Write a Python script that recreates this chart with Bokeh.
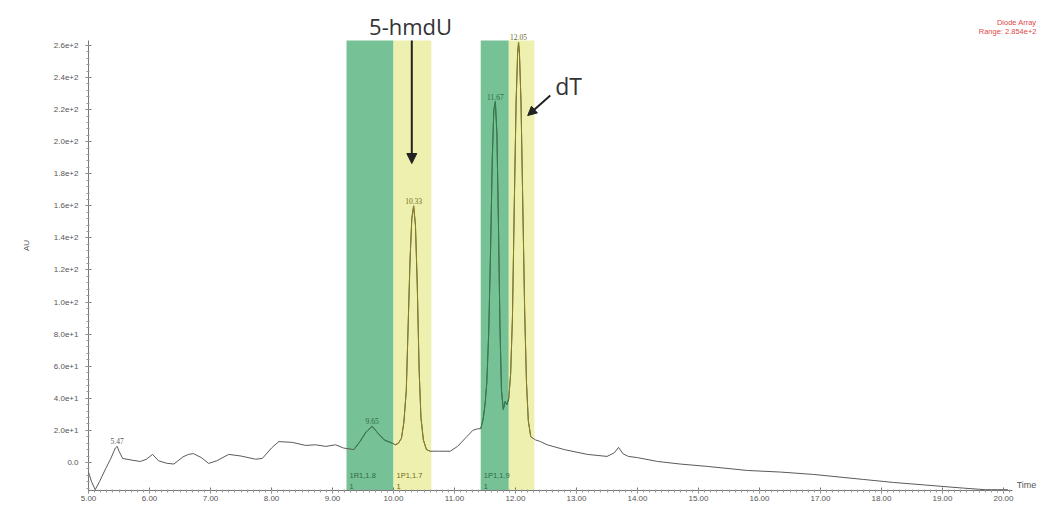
import numpy as np
from bokeh.plotting import figure
from bokeh.models import (Range1d, FixedTicker, BoxAnnotation, Label, LabelSet,
                          ColumnDataSource, Arrow, NormalHead)
from bokeh.embed import file_html
from bokeh.resources import INLINE

# ---------------- data ----------------
time_min = [5.00, 5.05, 5.11, 5.18, 5.28, 5.36, 5.44, 5.47, 5.50, 5.56, 5.70, 5.85, 5.95,
            6.05, 6.15, 6.28, 6.40, 6.55, 6.64, 6.72, 6.85, 6.97, 7.10, 7.30, 7.50, 7.74,
            7.85, 8.00, 8.12, 8.34, 8.56, 8.72, 8.89, 9.05, 9.18, 9.35, 9.45, 9.55, 9.65,
            9.75, 9.85, 9.98, 10.03, 10.08, 10.13, 10.17, 10.21, 10.24, 10.27, 10.30, 10.33,
            10.36, 10.39, 10.42, 10.45, 10.49, 10.54, 10.60, 10.75, 10.93, 11.05, 11.20,
            11.30, 11.38, 11.43, 11.47, 11.50, 11.53, 11.56, 11.59, 11.62, 11.645, 11.67,
            11.695, 11.72, 11.745, 11.77, 11.80, 11.83, 11.86, 11.89, 11.92, 11.95, 11.98,
            12.01, 12.035, 12.05, 12.065, 12.09, 12.12, 12.15, 12.18, 12.21, 12.25, 12.33,
            12.41, 12.52, 12.80, 13.18, 13.50, 13.62, 13.69, 13.76, 13.85, 14.00, 14.33,
            14.70, 15.15, 15.80, 16.34, 16.89, 17.70, 18.20, 18.69, 19.34, 19.70, 20.07]
absorbance = [-6, -12, -17, -12, -4, 2, 9, 10, 7, 2.5, 1.5, 0.6, 2,
              5, 1, -0.5, -1, 3.5, 5, 5.5, 3, -0.6, 1, 5, 4, 2,
              2.5, 9, 13, 12.5, 10.6, 11, 10, 11, 9, 8, 13, 19, 22.5,
              18, 14, 12, 11, 12, 15, 25, 45, 85, 125, 152, 160,
              148, 110, 58, 28, 14, 8, 7, 7, 7, 10, 16,
              20, 21, 21, 27, 36, 50, 80, 130, 190, 220, 225,
              205, 150, 85, 45, 33, 38, 36, 40, 55, 90, 160,
              225, 255, 262, 255, 225, 160, 95, 50, 26, 16, 14,
              13, 11, 8, 5, 3.75, 6, 9.4, 5.5, 3.75, 3, 0.6,
              -1, -2.5, -5, -6, -7.5, -10.6, -12.5, -14, -16, -17, -17]

peak_rt = [5.47, 9.65, 10.33, 11.67, 12.05]
peak_height = [10, 22.5, 160, 225, 262]
peak_label = ["5.47", "9.65", "10.33", "11.67", "12.05"]
peak_kind = ["none", "green", "yellow", "green", "yellow"]

region_start = [9.23, 10.00, 11.43, 11.89]
region_end = [10.00, 10.62, 11.89, 12.31]
region_kind = ["green", "yellow", "green", "yellow"]
region_label = ["1R1,1.8", "1P1,1.7", "1P1,1.9", ""]
region_sub = ["1", "1", "1", ""]

x_ticks = [5, 6, 7, 8, 9, 10, 11, 12, 13, 14, 15, 16, 17, 18, 19, 20]
x_tick_labels = ["5.00", "6.00", "7.00", "8.00", "9.00", "10.00", "11.00", "12.00",
                 "13.00", "14.00", "15.00", "16.00", "17.00", "18.00", "19.00", "20.00"]
y_ticks = [0, 20, 40, 60, 80, 100, 120, 140, 160, 180, 200, 220, 240, 260]
y_tick_labels = ["0.0", "2.0e+1", "4.0e+1", "6.0e+1", "8.0e+1", "1.0e+2", "1.2e+2",
                 "1.4e+2", "1.6e+2", "1.8e+2", "2.0e+2", "2.2e+2", "2.4e+2", "2.6e+2"]

# ---------------- styling ----------------
FILL = {"green": "#76c196", "yellow": "#eef0b0"}
LINE = {"green": "#2f7d4a", "yellow": "#8a7f1f", "none": "#555555"}
TXT = {"green": "#2f6b45", "yellow": "#6f6a1c", "none": "#555555"}
SMALL = "Liberation Sans"
BIG = "Open Sans"

# axis extents (drawn part) and the wider plotting window used for annotations
AX_X0, AX_X1 = 5.0, 20.15
AX_Y0, AX_Y1 = -17.5, 263.1
PX_PER_X = 61.0
PX_PER_Y = 450 / (AX_Y1 - AX_Y0)
W, H, LEFT, BOTTOM = 1038, 507, 88, 17
X_END = AX_X0 + (W - LEFT) / PX_PER_X
Y_END = AX_Y0 + (H - BOTTOM) / PX_PER_Y

p = figure(width=W, height=H, x_range=Range1d(AX_X0, X_END), y_range=Range1d(AX_Y0, Y_END),
           toolbar_location=None, output_backend="svg",
           min_border_left=LEFT, min_border_right=0, min_border_top=0,
           min_border_bottom=BOTTOM)
p.outline_line_color = None
p.xgrid.visible = False
p.ygrid.visible = False
p.background_fill_color = "white"
p.border_fill_color = "white"

# shaded integration regions
for s, e, k in zip(region_start, region_end, region_kind):
    p.add_layout(BoxAnnotation(left=s, right=e, bottom=AX_Y0, top=AX_Y1,
                               fill_color=FILL[k], fill_alpha=1.0,
                               line_color=None, level="underlay"))

t = np.array(time_min)
a = np.array(absorbance)
p.line(t, a, line_color="#5a5a5a", line_width=1, line_join="bevel")
for s, e, k in zip(region_start, region_end, region_kind):
    m = (t >= s) & (t <= e)
    p.line(t[m], a[m], line_color=LINE[k], line_width=1, line_join="bevel")

# peak labels
src = ColumnDataSource(dict(x=peak_rt, y=peak_height, text=peak_label,
                            color=[TXT[k] for k in peak_kind]))
p.add_layout(LabelSet(x="x", y="y", text="text", source=src, text_color="color",
                      text_font=SMALL, text_font_size="7.5px", text_align="center",
                      text_baseline="bottom", y_offset=2))

# region labels at the bottom of the shaded bands
for s, lab, sub, k in zip(region_start, region_label, region_sub, region_kind):
    if lab:
        p.add_layout(Label(x=s, y=AX_Y0, text=lab, x_offset=3, y_offset=15,
                           text_font=SMALL, text_font_size="7.5px", text_color=TXT[k],
                           text_baseline="middle"))
        p.add_layout(Label(x=s, y=AX_Y0, text=sub, x_offset=3, y_offset=4,
                           text_font=SMALL, text_font_size="7.5px", text_color=TXT[k],
                           text_baseline="middle"))

# annotations
p.add_layout(Label(x=10.28, y=272.4, text="5-hmdU", text_font=BIG, text_font_size="22px",
                   text_color="#333333", text_align="center", text_baseline="middle"))
p.add_layout(Arrow(end=NormalHead(size=10, fill_color="#222222", line_color="#222222"),
                   x_start=10.30, y_start=AX_Y1, x_end=10.30, y_end=186.4,
                   line_color="#222222", line_width=2))
p.add_layout(Label(x=12.87, y=235, text="dT", text_font=BIG, text_font_size="23px",
                   text_color="#333333", text_align="center", text_baseline="middle"))
p.add_layout(Arrow(end=NormalHead(size=9, fill_color="#222222", line_color="#222222"),
                   x_start=12.57, y_start=228.8, x_end=12.20, y_end=216.3,
                   line_color="#222222", line_width=2))

p.add_layout(Label(x=X_END, y=274.3, text="Diode Array", text_font=SMALL, x_offset=-2,
                   text_font_size="7.5px", text_color="#e04848", text_align="right",
                   text_baseline="middle"))
p.add_layout(Label(x=X_END, y=268.7, text="Range: 2.854e+2", text_font=SMALL, x_offset=-2,
                   text_font_size="7.5px", text_color="#e04848", text_align="right",
                   text_baseline="middle"))
p.add_layout(Label(x=AX_X1, y=AX_Y0, text="Time", text_font=SMALL, text_font_size="9px",
                   x_offset=4, y_offset=1, text_color="#555555", text_align="left",
                   text_baseline="bottom"))

# axes
p.xaxis.bounds = (AX_X0, AX_X1)
p.yaxis.bounds = (AX_Y0, AX_Y1)
p.xaxis.ticker = FixedTicker(ticks=x_ticks,
                             minor_ticks=[round(5 + i * 0.1, 2) for i in range(152)])
p.xaxis.major_label_overrides = {v: s for v, s in zip(x_ticks, x_tick_labels)}
p.yaxis.ticker = FixedTicker(ticks=y_ticks, minor_ticks=list(range(-16, 264, 4)))
p.yaxis.major_label_overrides = {v: s for v, s in zip(y_ticks, y_tick_labels)}
p.yaxis.axis_label = "AU"
p.yaxis.axis_label_text_font_style = "normal"
p.yaxis.axis_label_text_font = SMALL
p.yaxis.axis_label_text_font_size = "8px"
p.yaxis.axis_label_text_color = "#555555"
p.yaxis.axis_label_standoff = 20
for ax in (p.xaxis, p.yaxis):
    ax.axis_line_color = "#777777"
    ax.major_tick_line_color = "#777777"
    ax.minor_tick_line_color = "#999999"
    ax.major_tick_in = 3
    ax.major_tick_out = 3
    ax.minor_tick_in = 1
    ax.minor_tick_out = 2
    ax.major_label_text_font = SMALL
    ax.major_label_text_font_size = "8px"
    ax.major_label_text_color = "#555555"
p.xaxis.major_label_standoff = 2
p.yaxis.major_label_standoff = 7

open("out.html", "w").write(file_html(p, INLINE))
